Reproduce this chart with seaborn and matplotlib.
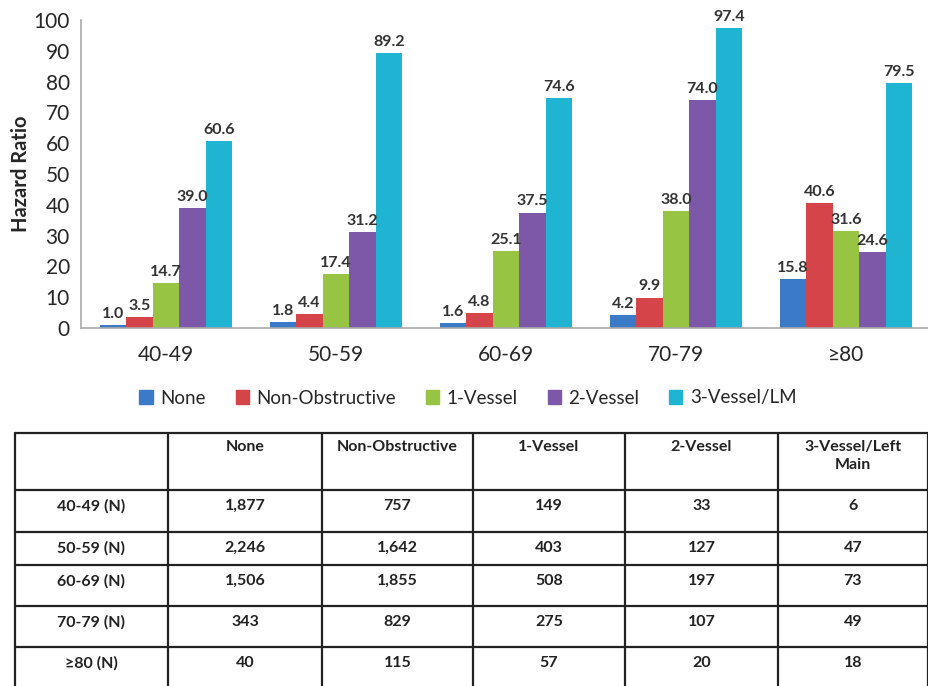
import pandas as pd
import numpy as np
import matplotlib
matplotlib.use("Agg")
import matplotlib.pyplot as plt
import seaborn as sns

# data
age_groups = ["40-49", "50-59", "60-69", "70-79", "≥80"]
vessel_cats = ["None", "Non-Obstructive", "1-Vessel", "2-Vessel", "3-Vessel/LM"]
hr_none = [1.0, 1.8, 1.6, 4.2, 15.8]
hr_nonobs = [3.5, 4.4, 4.8, 9.9, 40.6]
hr_one = [14.7, 17.4, 25.1, 38.0, 31.6]
hr_two = [39.0, 31.2, 37.5, 74.0, 24.6]
hr_three = [60.6, 89.2, 74.6, 97.4, 79.5]

# table of counts
table_header = ["", "None", "Non-Obstructive", "1-Vessel", "2-Vessel", "3-Vessel/Left\nMain"]
table_rows = ["40-49 (N)", "50-59 (N)", "60-69 (N)", "70-79 (N)", "≥80 (N)"]
n_none = ["1,877", "2,246", "1,506", "343", "40"]
n_nonobs = ["757", "1,642", "1,855", "829", "115"]
n_one = ["149", "403", "508", "275", "57"]
n_two = ["33", "127", "197", "107", "20"]
n_three = ["6", "47", "73", "49", "18"]

colors = ["#3b7ac6", "#d44448", "#97c443", "#7d58a8", "#1fb4d2"]

sns.set_style("white")
plt.rcParams['font.family'] = ['Lato', 'DejaVu Sans']

rows = []
for cat, vals in zip(vessel_cats, [hr_none, hr_nonobs, hr_one, hr_two, hr_three]):
    for g, v in zip(age_groups, vals):
        rows.append({"age": g, "cat": cat, "hr": v})
df = pd.DataFrame(rows)

W, H = 929, 686
fig = plt.figure(figsize=(W / 100, H / 100), dpi=100)

ax = fig.add_axes([81 / W, (H - 328) / H, 850 / W, 308 / H])
sns.barplot(data=df, x="age", y="hr", hue="cat", order=age_groups,
            hue_order=vessel_cats, palette=colors, width=0.78, saturation=1,
            linewidth=0, ax=ax)
ax.legend_.remove()

for cont in ax.containers:
    ax.bar_label(cont, fmt="%.1f", padding=3, fontsize=11.5,
                 fontweight="bold", color="#333333")

ax.set_ylim(0, 100)
ax.set_xlim(-0.5, 4.5)
ax.set_yticks(range(0, 101, 10))
ax.tick_params(axis="y", labelsize=15, length=0, pad=8)
ax.tick_params(axis="x", which="major", labelsize=15, length=0, pad=12)
ax.set_xticks([0.5, 1.5, 2.5, 3.5], minor=True)
ax.tick_params(axis="x", which="minor", length=5, color="#999999")
ax.set_xlabel("")
ax.set_ylabel("Hazard Ratio", fontsize=14.5, fontweight="bold", labelpad=2)
for s in ["top", "right"]:
    ax.spines[s].set_visible(False)
for s in ["left", "bottom"]:
    ax.spines[s].set_color("#aaaaaa")
    ax.spines[s].set_linewidth(1.2)

handles = [plt.Rectangle((0, 0), 1, 1, color=c) for c in colors]
fig.legend(handles, vessel_cats, loc="center", bbox_to_anchor=(468 / W, (H - 398) / H),
           ncol=5, frameon=False, fontsize=13.5, handlelength=0.7, handleheight=0.7,
           handletextpad=0.4, columnspacing=1.6)

# table drawn in pixel coordinates
tax = fig.add_axes([0, 0, 1, 1])
tax.set_xlim(0, W)
tax.set_ylim(H, 0)
tax.axis("off")

col_edges = [15, 168, 322, 473, 625, 778, 928]
row_edges = [433, 490, 532, 565, 606, 647, 686]
for x in col_edges:
    tax.plot([x, x], [row_edges[0], row_edges[-1]], color="#222222", lw=1.6)
for y in row_edges[:-1]:
    tax.plot([col_edges[0], col_edges[-1]], [y, y], color="#222222", lw=1.6)

centers = [(col_edges[i] + col_edges[i + 1]) / 2 for i in range(len(col_edges) - 1)]
for c, txt in zip(centers, table_header):
    tax.text(c, row_edges[0] + 7, txt, ha="center", va="top", fontsize=11.5,
             fontweight="bold", color="#222222", linespacing=1.4)

cols = [table_rows, n_none, n_nonobs, n_one, n_two, n_three]
for r in range(len(table_rows)):
    y = row_edges[r + 1] + 16
    for c, colvals in zip(centers, cols):
        tax.text(c, y, colvals[r], ha="center", va="center", fontsize=11.5,
                 fontweight="bold", color="#222222")

plt.savefig("out.png", dpi=100)
